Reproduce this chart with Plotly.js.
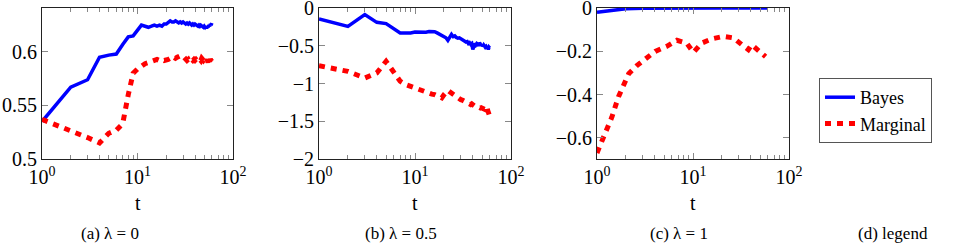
<!DOCTYPE html>
<html>
<head>
<meta charset="utf-8">
<script src="https://cdn.plot.ly/plotly-3.0.1.min.js"></script>
<style>
html,body{margin:0;padding:0;background:#fff;}
#chart{width:954px;height:244px;}
</style>
</head>
<body>
<div id="chart"></div>
<script>
// ---- data ----
const tSteps = [1,2,3,4,5,6,7,8,9,10,11,12,13,14,15,16,17,18,19,20,21,22,23,24,25,26,27,28,29,30,
  31,32,33,34,35,36,37,38,39,40,41,42,43,44,45,46,47,48,49,50,51,52,53,54,55,56,57,58,59,60];

const bayesA = [0.535,0.567,0.574,0.595,0.597,0.598,0.607,0.614,0.615,0.620,
  0.625,0.624,0.623,0.624,0.625,0.624,0.625,0.624,0.626,0.626,
  0.628,0.629,0.628,0.628,0.629,0.628,0.627,0.628,0.627,0.628,
  0.627,0.626,0.627,0.626,0.627,0.626,0.625,0.626,0.625,0.626,
  0.625,0.625,0.624,0.625,0.624,0.625,0.624,0.624,0.623,0.624,
  0.623,0.624,0.622,0.624,0.623,0.625,0.624,0.626,0.625,0.627];
const marginalA = [0.537,0.527,0.520,0.515,0.524,0.527,0.533,0.560,0.580,0.584,
  0.587,0.589,0.590,0.591,0.592,0.593,0.592,0.593,0.592,0.592,
  0.593,0.594,0.593,0.595,0.594,0.595,0.596,0.597,0.597,0.596,
  0.595,0.594,0.592,0.593,0.591,0.592,0.593,0.592,0.593,0.592,
  0.593,0.592,0.593,0.592,0.593,0.592,0.594,0.593,0.592,0.593,
  0.594,0.593,0.591,0.593,0.590,0.594,0.591,0.593,0.592,0.591];

const bayesB = [-0.146,-0.243,-0.088,-0.190,-0.207,-0.278,-0.331,-0.330,-0.332,-0.318,
  -0.322,-0.315,-0.320,-0.312,-0.309,-0.315,-0.330,-0.345,-0.360,-0.375,
  -0.395,-0.430,-0.380,-0.350,-0.380,-0.370,-0.390,-0.400,-0.395,-0.410,
  -0.420,-0.430,-0.440,-0.450,-0.445,-0.470,-0.460,-0.480,-0.470,-0.550,
  -0.480,-0.470,-0.490,-0.470,-0.480,-0.500,-0.460,-0.490,-0.500,-0.480,
  -0.510,-0.490,-0.500,-0.520,-0.510,-0.530,-0.510,-0.550,-0.520,-0.530];
const marginalB = [-0.764,-0.840,-0.927,-0.860,-0.706,-0.840,-0.970,-1.015,-1.040,-1.060,
  -1.080,-1.100,-1.126,-1.130,-1.140,-1.148,-1.160,-1.170,-1.190,-1.150,
  -1.120,-1.090,-1.110,-1.130,-1.148,-1.160,-1.170,-1.190,-1.200,-1.214,
  -1.220,-1.230,-1.240,-1.250,-1.255,-1.265,-1.270,-1.280,-1.270,-1.285,
  -1.290,-1.300,-1.295,-1.305,-1.310,-1.315,-1.320,-1.325,-1.320,-1.325,
  -1.330,-1.335,-1.340,-1.320,-1.300,-1.300,-1.350,-1.400,-1.420,-1.435];

const tBayesC = [1, 1.5, 2, 3, 5, 10, 20, 60];
const bayesC = [-0.020, -0.008, -0.003, -0.001, 0, 0, 0, 0];
const tMarginalC = [1, 1.13, 1.27, 1.43, 1.68, 1.89, 2.14, 2.6, 3.18, 4.04, 5.33, 6.8, 8.6,
  10.1, 12.3, 15.6, 20.7, 26.4, 32.2, 37.7, 40.9, 46, 54, 57];
const marginalC = [-0.669, -0.615, -0.558, -0.503, -0.408, -0.354, -0.303, -0.266, -0.235,
  -0.200, -0.177, -0.149, -0.162, -0.205, -0.162, -0.143, -0.131, -0.138, -0.169, -0.192,
  -0.169, -0.189, -0.209, -0.225];

const xTickVals = [1, 10, 100];
const xTickText = ['10<sup>0</sup>', '10<sup>1</sup>', '10<sup>2</sup>'];
const xMinorVals = [2,3,4,5,6,7,8,9,20,30,40,50,60,70,80,90];
const yTickValsA = [0.5, 0.55, 0.6];
const yTickTextA = ['0.5', '0.55', '0.6'];
const yTickValsB = [-2, -1.5, -1, -0.5, 0];
const yTickTextB = ['\u22122', '\u22121.5', '\u22121', '\u22120.5', '0'];
const yTickValsC = [-0.6, -0.4, -0.2, 0];
const yTickTextC = ['\u22120.6', '\u22120.4', '\u22120.2', '0'];
const captions = ['(a) \u03bb = 0', '(b) \u03bb = 0.5', '(c) \u03bb = 1', '(d) legend'];
const seriesNames = ['Bayes', 'Marginal'];

// ---- styling ----
const W = 954, H = 244;
const FONT = 'Liberation Serif';
const blueLine = {color: '#0000ff', width: 3.5};
const redLine = {color: '#ff0000', width: 5, dash: '6px,6px'};

function bt(x, y, xa, ya, show) {
  return {x: x, y: y, xaxis: xa, yaxis: ya, type: 'scatter', mode: 'lines',
    name: seriesNames[0], line: blueLine, showlegend: show, legendrank: 1, hoverinfo: 'skip'};
}
function rt(x, y, xa, ya, show) {
  return {x: x, y: y, xaxis: xa, yaxis: ya, type: 'scatter', mode: 'lines',
    name: seriesNames[1], line: redLine, showlegend: show, legendrank: 2, hoverinfo: 'skip'};
}

const data = [
  bt(tSteps, bayesA, 'x', 'y', true), rt(tSteps, marginalA, 'x', 'y', true),
  bt(tSteps, bayesB, 'x2', 'y2', false), rt(tSteps, marginalB, 'x2', 'y2', false),
  bt(tBayesC, bayesC, 'x3', 'y3', false), rt(tMarginalC, marginalC, 'x3', 'y3', false)
];

const yTop = 1 - 8 / H, yBot = 1 - 159 / H;
const panels = [[42, 233], [319, 511], [597, 789]];

function xax(i, anchor) {
  return {
    domain: [panels[i][0] / W, panels[i][1] / W], anchor: anchor,
    type: 'log', range: [0, 2], fixedrange: true,
    tickmode: 'array', tickvals: xTickVals, ticktext: xTickText,
    ticks: 'inside', ticklen: 6, tickwidth: 1, tickcolor: '#888',
    minor: {tickmode: 'array', tickvals: xMinorVals, ticks: 'inside', ticklen: 4, tickwidth: 1, tickcolor: '#888', showgrid: false},
    showline: true, linecolor: '#222', linewidth: 1, mirror: 'allticks',
    showgrid: false, zeroline: false, ticklabeloverflow: 'allow',
    tickfont: {family: FONT, size: 20, color: '#000'}
  };
}
function yax(anchor, range, vals, text) {
  return {
    domain: [yBot, yTop], anchor: anchor, range: range, fixedrange: true,
    tickmode: 'array', tickvals: vals, ticktext: text,
    ticks: 'inside', ticklen: 6, tickwidth: 1, tickcolor: '#888',
    showline: true, linecolor: '#222', linewidth: 1, mirror: 'allticks',
    showgrid: false, zeroline: false, ticklabeloverflow: 'allow',
    tickfont: {family: FONT, size: 20, color: '#000'}
  };
}

const annotations = [];
const tCenters = [137.5, 415, 693];
tCenters.forEach(function (cx) {
  annotations.push({xref: 'paper', yref: 'paper', x: cx / W, y: 1 - 203 / H,
    xanchor: 'center', yanchor: 'middle', showarrow: false, text: 't',
    font: {family: FONT, size: 20, color: '#000'}});
});
const capCenters = [110, 401, 679, 893];
captions.forEach(function (c, i) {
  annotations.push({xref: 'paper', yref: 'paper', x: capCenters[i] / W, y: 1 - 233 / H,
    xanchor: 'center', yanchor: 'middle', showarrow: false, text: c,
    font: {family: FONT, size: 17, color: '#000'}});
});

const layout = {
  width: W, height: H,
  margin: {l: 0, r: 0, t: 0, b: 0, pad: 0},
  paper_bgcolor: '#fff', plot_bgcolor: '#fff',
  font: {family: FONT, size: 18, color: '#000'},
  xaxis: xax(0, 'y'), xaxis2: xax(1, 'y2'), xaxis3: xax(2, 'y3'),
  yaxis: yax('x', [0.5, 0.641], yTickValsA, yTickTextA),
  yaxis2: yax('x2', [-2, 0], yTickValsB, yTickTextB),
  yaxis3: yax('x3', [-0.697, 0], yTickValsC, yTickTextC),
  showlegend: true,
  legend: {x: 819 / W, y: 1 - 78 / H, xanchor: 'left', yanchor: 'top',
    bordercolor: '#555', borderwidth: 1, bgcolor: '#fff',
    font: {family: FONT, size: 18, color: '#000'}, traceorder: 'normal'},
  annotations: annotations,
  hovermode: false, dragmode: false
};

Plotly.newPlot('chart', data, layout, {displayModeBar: false}).then(function () {
  document.querySelectorAll('#chart text').forEach(function (el) {
    el.style.fontFamily = "'Liberation Serif', serif";
  });
});
</script>
</body>
</html>
